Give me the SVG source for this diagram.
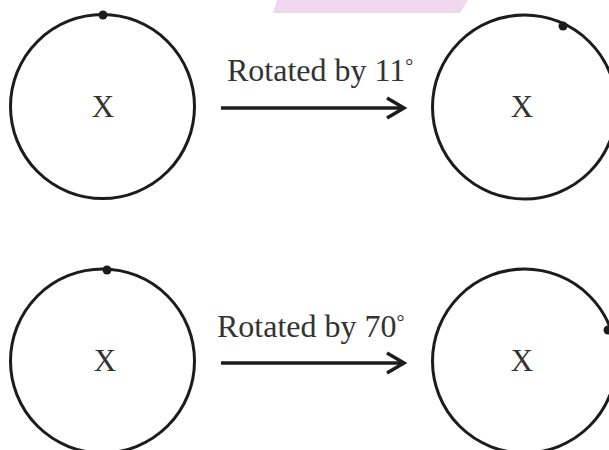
<svg xmlns="http://www.w3.org/2000/svg" width="609" height="450" viewBox="0 0 609 450">
<style>
.c{fill:none;stroke:#1c1c1c;stroke-width:3}
.d{fill:#1c1c1c}
.t{font-family:"Liberation Serif","Times New Roman",serif;fill:#333}
.lbl{font-size:32px}
.deg{font-size:20px}
.x{font-size:31px;text-anchor:middle}
.a{fill:none;stroke:#1c1c1c;stroke-width:3.5}
</style>
<defs>
<marker id="ah" markerUnits="userSpaceOnUse" markerWidth="24" markerHeight="26" viewBox="-20 -12 24 24" refX="0" refY="0" orient="auto">
<path d="M-17,-10 L0,0 L-17,10" fill="none" stroke="#1c1c1c" stroke-width="3.5"/>
</marker>
</defs>
<rect width="609" height="450" fill="#fff"/>
<polygon points="277,0 468,0 460,13 273,13" fill="#efd8ef"/>
<g id="circle-top-left">
<circle class="c" cx="102.5" cy="106.5" r="92"/>
<circle class="d" cx="103" cy="15" r="4.5"/>
<text class="t x" x="103" y="117">X</text>
</g>
<g id="circle-top-right">
<circle class="c" cx="524.5" cy="107" r="92"/>
<circle class="d" cx="563" cy="26" r="4.5"/>
<text class="t x" x="522" y="117">X</text>
</g>
<g id="circle-bottom-left">
<circle class="c" cx="102.5" cy="361" r="92"/>
<circle class="d" cx="107" cy="270" r="4.5"/>
<text class="t x" x="105" y="371">X</text>
</g>
<g id="circle-bottom-right">
<circle class="c" cx="524.5" cy="361" r="92"/>
<circle class="d" cx="608" cy="330" r="4.5"/>
<text class="t x" x="522" y="371">X</text>
</g>
<g id="connectors">
<line class="a" x1="221" y1="108" x2="404" y2="108" marker-end="url(#ah)"/>
<text class="t lbl" x="227" y="81">Rotated by 11<tspan class="deg" baseline-shift="8">°</tspan></text>
<line class="a" x1="221" y1="363" x2="404" y2="363" marker-end="url(#ah)"/>
<text class="t lbl" x="217" y="337">Rotated by 70<tspan class="deg" baseline-shift="8">°</tspan></text>
</g>
</svg>
